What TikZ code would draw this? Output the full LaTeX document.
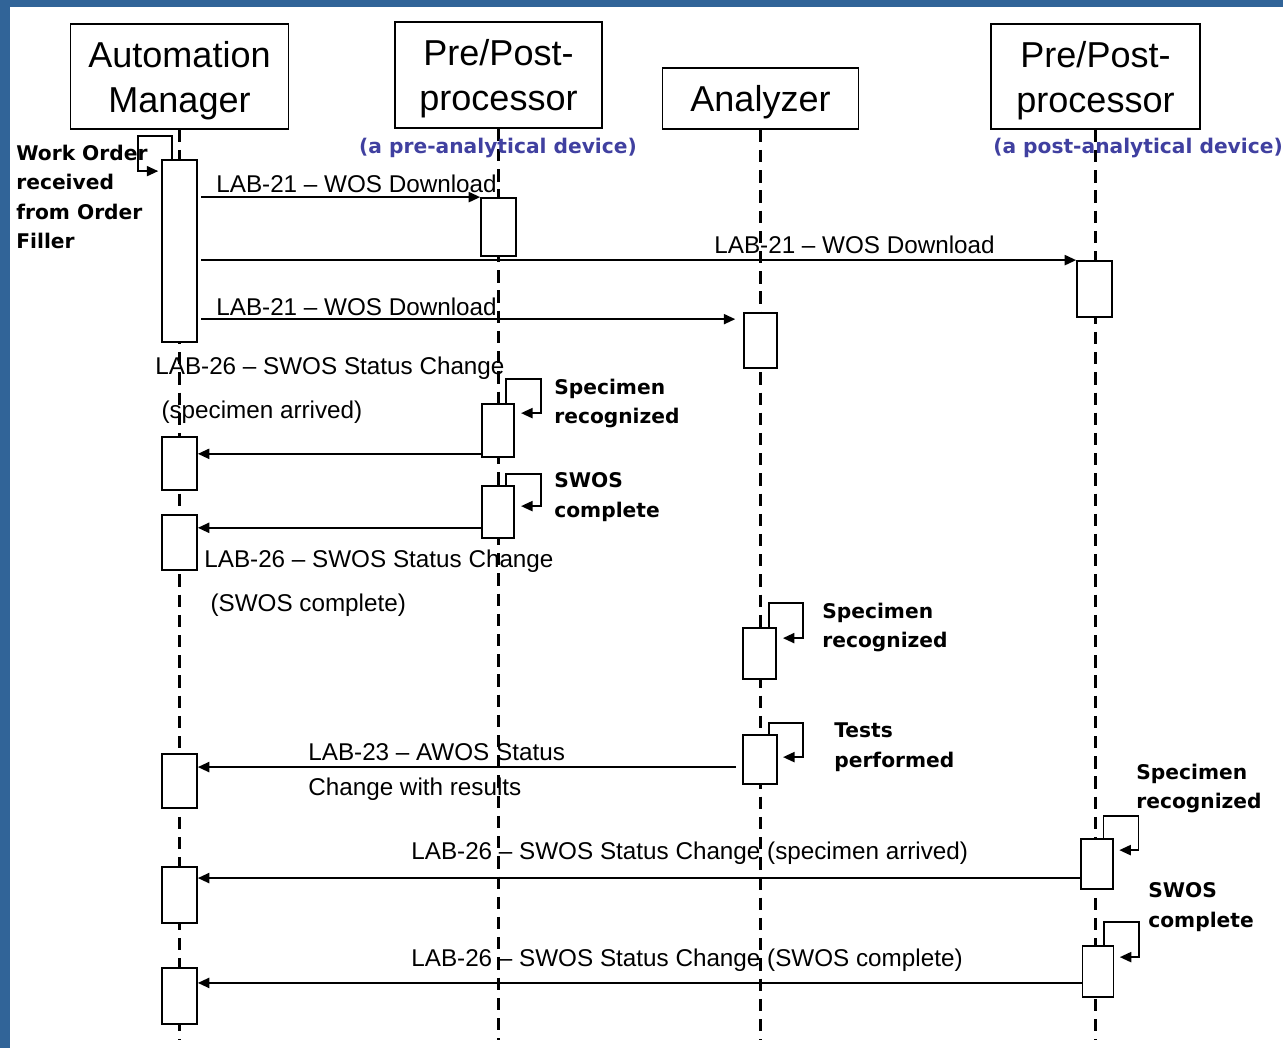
\documentclass[tikz,border=0pt]{standalone}
\usepackage{fontspec}
\setmainfont{Liberation Sans}
\newfontfamily\notefont{DejaVu Sans}
\usepackage{xcolor}
\usetikzlibrary{arrows.meta}
\definecolor{frameblue}{RGB}{49,100,152}
\definecolor{devblue}{RGB}{64,64,160}

\begin{document}
\begin{tikzpicture}[x=0.2mm, y=-0.2mm]

            \tikzset{actor/.style={draw, line width=0.9pt, fill=white, inner sep=0pt, align=center, text depth=0pt,
                       font=\fontsize{20.5pt}{25.6pt}\selectfont},
                     act/.style={draw, line width=1pt, fill=white, inner sep=0pt, minimum width=7mm},
                     life/.style={line width=1.6pt, dash pattern=on 7pt off 4.5pt},
                     msg/.style={line width=0.95pt, -{Triangle[length=6.5pt,width=5.8pt]}},
                     selfmsg/.style={line width=0.9pt, -{Triangle[length=6.5pt,width=5.8pt]}},
                     lab/.style={inner sep=0pt, align=left, font=\fontsize{13.8pt}{16.6pt}\selectfont},
                     note/.style={inner sep=0pt, align=left, anchor=north west,
                       font=\notefont\bfseries\fontsize{11.5pt}{16.8pt}\selectfont},
                     device/.style={inner sep=0pt, text=devblue,
                       font=\notefont\bfseries\fontsize{11.5pt}{14pt}\selectfont}}

            \useasboundingbox (0,0) rectangle (1283,1048);
            \fill [frameblue] (0,0) rectangle (1283,7);
            \fill [frameblue] (0,0) rectangle (10,1048);

            \node [actor, minimum width=43.6mm, minimum height=21mm] (am) at (179.5,76.5) {Automation\\Manager};
            \node [actor, minimum width=41.4mm, minimum height=21.2mm] (pre) at (498.5,75) {Pre/Post-\\processor};
            \node [actor, minimum width=39.2mm, minimum height=12.2mm] (ana) at (760.5,98.5) {Analyzer};
            \node [actor, minimum width=41.8mm, minimum height=21mm] (post) at (1095.5,76.5) {Pre/Post-\\processor};

            \coordinate (bottom) at (0,1040);
            \draw [life] (am.south) -- (am.south |- bottom);
            \draw [life] (pre.south) -- (pre.south |- bottom);
            \draw [life] (ana.south) -- (ana.south |- bottom);
            \draw [life] (post.south) -- (post.south |- bottom);

            \node [device] (pred) at (498,148) {(a pre-analytical device)};
            \node [device] (postd) at (1138,148) {(a post-analytical device)};

            \node [act, minimum height=36.4mm] (a1) at (179.5,251) {};
            \node [act, minimum height=10.6mm] (a2) at (179.5,463.5) {};
            \node [act, minimum height=11mm] (a3) at (179.5,542.5) {};
            \node [act, minimum height=10.8mm] (a4) at (179.5,781) {};
            \node [act, minimum height=11.2mm] (a5) at (179.5,895) {};
            \node [act, minimum height=11.2mm] (a6) at (179.5,996) {};
            \node [act, minimum height=11.6mm] (p1) at (498.5,227) {};
            \node [act, minimum width=6.4mm, minimum height=10.6mm] (p2) at (498,430.5) {};
            \node [act, minimum width=6.4mm, minimum height=10.4mm] (p3) at (498,512) {};
            \node [act, minimum width=6.6mm, minimum height=11mm] (n1) at (760.5,340.5) {};
            \node [act, minimum width=6.6mm, minimum height=10.2mm] (n2) at (759.5,653.5) {};
            \node [act, minimum width=6.8mm, minimum height=9.8mm] (n3) at (760,759.5) {};
            \node [act, minimum height=11.2mm] (q1) at (1094.5,289) {};
            \node [act, minimum width=6.4mm, minimum height=10mm] (q2) at (1097,864) {};
            \node [act, minimum width=6.2mm, minimum height=10.2mm] (q3) at (1098,971.5) {};

            % self messages
            \draw [selfmsg] ([xshift=6.3pt]a1.north west) -- ++(0,-23) -- ++(-34,0) -- ++(0,35) -- ++(20,0);
            \draw [selfmsg] ([xshift=-5pt]p2.north east) -- ++(0,-24) -- ++(35,0) -- ++(0,34) -- ++(-20,0);
            \draw [selfmsg] ([xshift=-5pt]p3.north east) -- ++(0,-11) -- ++(35,0) -- ++(0,32) -- ++(-20,0);
            \draw [selfmsg] ([xshift=-4.5pt]n2.north east) -- ++(0,-24) -- ++(34,0) -- ++(0,35) -- ++(-20,0);
            \draw [selfmsg] ([xshift=-5pt]n3.north east) -- ++(0,-11) -- ++(34,0) -- ++(0,34) -- ++(-20,0);
            \draw [selfmsg] ([xshift=-6pt]q2.north east) -- ++(0,-22) -- ++(35,0) -- ++(0,34) -- ++(-19,0);
            \draw [selfmsg] ([xshift=-6pt]q3.north east) -- ++(0,-23) -- ++(35,0) -- ++(0,35) -- ++(-19,0);

            % messages
            \draw [msg, shorten <=2pt] (a1.east |- p1.north west) -- (p1.north west);
            \draw [msg, shorten <=2pt] (a1.east |- q1.north west) -- (q1.north west);
            \coordinate (m3) at ([yshift=-4pt]n1.north west);
            \draw [msg, shorten <=2pt, shorten >=4.5pt] (a1.east |- m3) -- (m3);
            \coordinate (m4) at ([yshift=2.3pt]p2.south west);
            \draw [msg] (m4) -- (a2.east |- m4);
            \coordinate (m5) at ([yshift=6.3pt]p3.south west);
            \draw [msg] (m5) -- (a3.east |- m5);
            \coordinate (m6) at ([yshift=-4.3pt]n3.west);
            \draw [msg, shorten <=3.4pt] (m6) -- (a4.east |- m6);
            \coordinate (m7) at ([yshift=-8pt]q2.west);
            \draw [msg] (m7) -- (a5.east |- m7);
            \coordinate (m8) at ([yshift=-6.5pt]q3.west);
            \draw [msg] (m8) -- (a6.east |- m8);

            \node [lab, anchor=base west] (dl1) at (216,193) {LAB-21 – WOS Download};
            \node [lab, anchor=base west] (dl2) at (714,254) {LAB-21 – WOS Download};
            \node [lab, anchor=base west] (dl3) at (216,316) {LAB-21 – WOS Download};
            \node [lab, anchor=north west] (sc1) at (155,357) {LAB-26 – SWOS Status Change\\[8.4pt]\hspace*{3.5pt}(specimen arrived)};
            \node [lab, anchor=north west] (sc2) at (204,550) {LAB-26 – SWOS Status Change\\[8.4pt]\hspace*{3.5pt}(SWOS complete)};
            \node [lab, anchor=north west] (aw) at (308,743) {LAB-23 – AWOS Status\\[3.3pt]Change with results};
            \node [lab, anchor=base west] (sc3) at (411,859) {LAB-26 – SWOS Status Change (specimen arrived)};
            \node [lab, anchor=base west] (sc4) at (411,966) {LAB-26 – SWOS Status Change (SWOS complete)};

            \node [note] (wo) at (16,144.5) {Work Order\\received\\from Order\\Filler};
            \node [note] (sr1) at (554,378.5) {Specimen\\recognized};
            \node [note] (sw1) at (554,472.5) {SWOS\\complete};
            \node [note] (sr2) at (822,602.5) {Specimen\\recognized};
            \node [note] (tp) at (834,722.5) {Tests\\performed};
            \node [note] (sr3) at (1136,763.5) {Specimen\\recognized};
            \node [note] (sw2) at (1148,882.5) {SWOS\\complete};

        \end{tikzpicture}
\end{document}
